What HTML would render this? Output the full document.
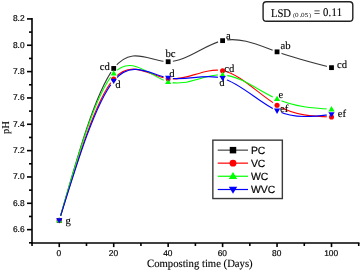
<!DOCTYPE html>
<html><head><meta charset="utf-8"><style>
html,body{margin:0;padding:0;background:#fff;width:360px;height:270px;overflow:hidden}
svg{display:block;will-change:transform;text-rendering:geometricPrecision}
.s{font-family:"Liberation Sans",sans-serif;stroke:#000;stroke-width:0.18px}
.r{font-family:"Liberation Serif",serif;stroke:#000;stroke-width:0.12px}
</style></head><body>
<svg width="360" height="270" viewBox="0 0 360 270">
<rect width="360" height="270" fill="#fff"/>

<defs>
<mask id="mPC" maskUnits="userSpaceOnUse" x="0" y="0" width="360" height="270"><rect width="360" height="270" fill="#fff"/>
<circle cx="59.26" cy="220.42" r="4.80" fill="#000"/>
<circle cx="113.71" cy="68.44" r="4.80" fill="#000"/>
<circle cx="168.16" cy="61.72" r="4.80" fill="#000"/>
<circle cx="222.60" cy="40.65" r="4.80" fill="#000"/>
<circle cx="277.05" cy="51.84" r="4.80" fill="#000"/>
<circle cx="331.50" cy="67.65" r="4.80" fill="#000"/>
</mask>
<mask id="mVC" maskUnits="userSpaceOnUse" x="0" y="0" width="360" height="270"><rect width="360" height="270" fill="#fff"/>
<circle cx="59.26" cy="220.42" r="4.80" fill="#000"/>
<circle cx="113.71" cy="78.98" r="4.80" fill="#000"/>
<circle cx="168.16" cy="78.84" r="4.80" fill="#000"/>
<circle cx="222.60" cy="70.68" r="4.80" fill="#000"/>
<circle cx="277.05" cy="105.18" r="4.80" fill="#000"/>
<circle cx="331.50" cy="117.04" r="4.80" fill="#000"/>
</mask>
<mask id="mWC" maskUnits="userSpaceOnUse" x="0" y="0" width="360" height="270"><rect width="360" height="270" fill="#fff"/>
<circle cx="59.26" cy="220.42" r="4.80" fill="#000"/>
<circle cx="113.71" cy="73.44" r="4.80" fill="#000"/>
<circle cx="168.16" cy="81.87" r="4.80" fill="#000"/>
<circle cx="222.60" cy="74.83" r="4.80" fill="#000"/>
<circle cx="277.05" cy="98.99" r="4.80" fill="#000"/>
<circle cx="331.50" cy="109.27" r="4.80" fill="#000"/>
</mask>
<mask id="mWVC" maskUnits="userSpaceOnUse" x="0" y="0" width="360" height="270"><rect width="360" height="270" fill="#fff"/>
<circle cx="59.26" cy="220.42" r="4.80" fill="#000"/>
<circle cx="113.71" cy="80.82" r="4.80" fill="#000"/>
<circle cx="168.16" cy="77.92" r="4.80" fill="#000"/>
<circle cx="222.60" cy="78.19" r="4.80" fill="#000"/>
<circle cx="277.05" cy="110.71" r="4.80" fill="#000"/>
<circle cx="331.50" cy="114.34" r="4.80" fill="#000"/>
</mask>
</defs>
<g stroke="#000" stroke-width="1.60" fill="none">
<path d="M32.00,18.12 V243.80"/>
<path d="M31.20,243.00 H359.52"/>
<path d="M29.00,242.81 H32.00"/>
<path d="M27.00,229.64 H32.00"/>
<path d="M29.00,216.47 H32.00"/>
<path d="M27.00,203.30 H32.00"/>
<path d="M29.00,190.13 H32.00"/>
<path d="M27.00,176.96 H32.00"/>
<path d="M29.00,163.79 H32.00"/>
<path d="M27.00,150.62 H32.00"/>
<path d="M29.00,137.45 H32.00"/>
<path d="M27.00,124.28 H32.00"/>
<path d="M29.00,111.11 H32.00"/>
<path d="M27.00,97.94 H32.00"/>
<path d="M29.00,84.77 H32.00"/>
<path d="M27.00,71.60 H32.00"/>
<path d="M29.00,58.43 H32.00"/>
<path d="M27.00,45.26 H32.00"/>
<path d="M29.00,32.09 H32.00"/>
<path d="M27.00,18.92 H32.00"/>
<path d="M32.04,243.00 V246.00"/>
<path d="M59.26,243.00 V247.10"/>
<path d="M86.48,243.00 V246.00"/>
<path d="M113.71,243.00 V247.10"/>
<path d="M140.93,243.00 V246.00"/>
<path d="M168.16,243.00 V247.10"/>
<path d="M195.38,243.00 V246.00"/>
<path d="M222.60,243.00 V247.10"/>
<path d="M249.83,243.00 V246.00"/>
<path d="M277.05,243.00 V247.10"/>
<path d="M304.28,243.00 V246.00"/>
<path d="M331.50,243.00 V247.10"/>
<path d="M358.72,243.00 V246.00"/>
</g>
<text class="s" x="24.6" y="231.94" font-size="8.40" text-anchor="end">6.6</text>
<text class="s" x="24.6" y="205.60" font-size="8.40" text-anchor="end">6.8</text>
<text class="s" x="24.6" y="179.26" font-size="8.40" text-anchor="end">7.0</text>
<text class="s" x="24.6" y="152.92" font-size="8.40" text-anchor="end">7.2</text>
<text class="s" x="24.6" y="126.58" font-size="8.40" text-anchor="end">7.4</text>
<text class="s" x="24.6" y="100.24" font-size="8.40" text-anchor="end">7.6</text>
<text class="s" x="24.6" y="73.90" font-size="8.40" text-anchor="end">7.8</text>
<text class="s" x="24.6" y="47.56" font-size="8.40" text-anchor="end">8.0</text>
<text class="s" x="24.6" y="21.22" font-size="8.40" text-anchor="end">8.2</text>
<text class="s" x="58.96" y="255.5" font-size="8.40" text-anchor="middle">0</text>
<text class="s" x="113.41" y="255.5" font-size="8.40" text-anchor="middle">20</text>
<text class="s" x="167.86" y="255.5" font-size="8.40" text-anchor="middle">40</text>
<text class="s" x="222.30" y="255.5" font-size="8.40" text-anchor="middle">60</text>
<text class="s" x="276.75" y="255.5" font-size="8.40" text-anchor="middle">80</text>
<text class="s" x="331.20" y="255.5" font-size="8.40" text-anchor="middle">100</text>
<text class="r" transform="translate(147,266.9) scale(1,1.04)" font-size="10.7">Composting time (Days)</text>
<text class="r" transform="translate(9.3,133.9) rotate(-90)" x="0" y="0" font-size="10.5">pH</text>
<path d="M59.26,220.42 C77.41,156.24 95.56,92.07 113.71,68.44 C131.86,44.81 150.01,61.73 168.16,61.72 C186.31,61.71 204.45,44.78 222.60,40.65 C240.75,36.52 258.90,45.21 277.05,51.84 C295.20,58.48 313.35,63.06 331.50,67.65" fill="none" stroke="#383838" stroke-width="1.10" mask="url(#mPC)"/>
<path d="M59.26,220.42 C77.41,160.15 95.56,99.88 113.71,78.98 C131.86,58.07 150.01,76.53 168.16,78.84 C186.31,81.16 204.45,67.32 222.60,70.68 C240.75,74.04 258.90,94.59 277.05,105.18 C295.20,115.78 313.35,116.41 331.50,117.04" fill="none" stroke="#ff0000" stroke-width="1.10" mask="url(#mVC)"/>
<path d="M59.26,220.42 C77.41,156.96 95.56,93.49 113.71,73.44 C131.86,53.39 150.01,76.76 168.16,81.87 C186.31,86.99 204.45,73.85 222.60,74.83 C240.75,75.81 258.90,90.90 277.05,98.99 C295.20,107.09 313.35,108.18 331.50,109.27" fill="none" stroke="#00ff00" stroke-width="1.10" mask="url(#mWC)"/>
<path d="M59.26,220.42 C77.41,161.50 95.56,102.58 113.71,80.82 C131.86,59.06 150.01,74.45 168.16,77.92 C186.31,81.39 204.45,72.93 222.60,78.19 C240.75,83.44 258.90,102.40 277.05,110.71 C295.20,119.03 313.35,116.68 331.50,114.34" fill="none" stroke="#0000ff" stroke-width="1.10" mask="url(#mWVC)"/>
<text class="r" transform="translate(99.80,69.50) scale(1,1.0)" font-size="10.7">cd</text>
<text class="r" transform="translate(115.30,87.60) scale(1,1.0)" font-size="10.7">d</text>
<text class="r" transform="translate(165.40,57.20) scale(1,1.0)" font-size="10.7">bc</text>
<text class="r" transform="translate(169.30,77.40) scale(1,1.0)" font-size="10.7">d</text>
<text class="r" transform="translate(225.90,38.90) scale(1,1.0)" font-size="10.7">a</text>
<text class="r" transform="translate(224.20,71.60) scale(1,1.0)" font-size="10.7">cd</text>
<text class="r" transform="translate(219.30,85.60) scale(1,1.0)" font-size="10.7">d</text>
<text class="r" transform="translate(280.60,49.00) scale(1,1.0)" font-size="10.7">ab</text>
<text class="r" transform="translate(278.40,97.80) scale(1,1.0)" font-size="10.7">e</text>
<text class="r" transform="translate(280.00,111.60) scale(1,1.0)" font-size="10.7">ef</text>
<text class="r" transform="translate(336.90,67.90) scale(1,1.0)" font-size="10.7">cd</text>
<text class="r" transform="translate(337.80,117.20) scale(1,1.0)" font-size="10.7">ef</text>
<text class="r" transform="translate(65.60,224.00) scale(1,1.0)" font-size="10.7">g</text>
<rect x="56.86" y="218.02" width="4.80" height="4.80" fill="#000000"/>
<rect x="111.31" y="66.04" width="4.80" height="4.80" fill="#000000"/>
<rect x="165.76" y="59.32" width="4.80" height="4.80" fill="#000000"/>
<rect x="220.20" y="38.25" width="4.80" height="4.80" fill="#000000"/>
<rect x="274.65" y="49.44" width="4.80" height="4.80" fill="#000000"/>
<rect x="329.10" y="65.25" width="4.80" height="4.80" fill="#000000"/>
<circle cx="59.26" cy="220.42" r="2.55" fill="#ff0000"/>
<circle cx="113.71" cy="78.98" r="2.55" fill="#ff0000"/>
<circle cx="168.16" cy="78.84" r="2.55" fill="#ff0000"/>
<circle cx="222.60" cy="70.68" r="2.55" fill="#ff0000"/>
<circle cx="277.05" cy="105.18" r="2.55" fill="#ff0000"/>
<circle cx="331.50" cy="117.04" r="2.55" fill="#ff0000"/>
<path d="M59.26,217.24 L62.36,222.54 L56.16,222.54 Z" fill="#00ff00"/>
<path d="M113.71,70.26 L116.81,75.56 L110.61,75.56 Z" fill="#00ff00"/>
<path d="M168.16,78.69 L171.26,83.99 L165.06,83.99 Z" fill="#00ff00"/>
<path d="M222.60,71.65 L225.70,76.95 L219.50,76.95 Z" fill="#00ff00"/>
<path d="M277.05,95.81 L280.15,101.11 L273.95,101.11 Z" fill="#00ff00"/>
<path d="M331.50,106.09 L334.60,111.39 L328.40,111.39 Z" fill="#00ff00"/>
<path d="M59.26,223.60 L62.36,218.30 L56.16,218.30 Z" fill="#0000ff"/>
<path d="M113.71,84.00 L116.81,78.70 L110.61,78.70 Z" fill="#0000ff"/>
<path d="M168.16,81.10 L171.26,75.80 L165.06,75.80 Z" fill="#0000ff"/>
<path d="M222.60,81.37 L225.70,76.06 L219.50,76.06 Z" fill="#0000ff"/>
<path d="M277.05,113.89 L280.15,108.59 L273.95,108.59 Z" fill="#0000ff"/>
<path d="M331.50,117.52 L334.60,112.22 L328.40,112.22 Z" fill="#0000ff"/>
<rect x="263.1" y="1.75" width="89.7" height="19.5" rx="3.3" ry="3.3" fill="#fff" stroke="#222" stroke-width="1.4"/>
<text class="r" transform="translate(270.9,16.7) scale(1,1.1)" font-size="10.65">LSD</text>
<text transform="translate(293.00,17.20) scale(1.15,1)" font-size="5.2" style="font-family:Liberation Serif;fill:#333;stroke:#333;stroke-width:0.1px">(</text>
<text transform="translate(294.90,17.25) scale(1.15,1)" font-size="6.2" style="font-family:Liberation Serif;fill:#333;stroke:#333;stroke-width:0.1px">0</text>
<text transform="translate(299.40,17.25) scale(1.15,1)" font-size="6.2" style="font-family:Liberation Serif;fill:#333;stroke:#333;stroke-width:0.1px">.</text>
<text transform="translate(301.00,17.25) scale(1.15,1)" font-size="6.2" style="font-family:Liberation Serif;fill:#333;stroke:#333;stroke-width:0.1px">0</text>
<text transform="translate(304.70,17.25) scale(1.15,1)" font-size="6.2" style="font-family:Liberation Serif;fill:#333;stroke:#333;stroke-width:0.1px">5</text>
<text transform="translate(309.20,17.20) scale(1.15,1)" font-size="5.2" style="font-family:Liberation Serif;fill:#333;stroke:#333;stroke-width:0.1px">)</text>
<text class="r" transform="translate(313.9,16.4) scale(1,1.1)" font-size="10.7" letter-spacing="0.22">= 0.11</text>
<rect x="212.85" y="140.15" width="69.5" height="58.4" fill="#fff" stroke="#3a3a3a" stroke-width="1.4"/>
<path d="M217.7,150.15 H248" stroke="#444" stroke-width="1.2"/>
<rect x="229.76" y="146.91" width="6.48" height="6.48" fill="#000000"/>
<text class="s" x="250.9" y="153.95" font-size="10.45">PC</text>
<path d="M217.7,163.15 H248" stroke="#ff0000" stroke-width="1.2"/>
<circle cx="233.00" cy="163.15" r="3.44" fill="#ff0000"/>
<text class="s" x="250.9" y="166.95" font-size="10.45">VC</text>
<path d="M217.7,176.25 H248" stroke="#00ff00" stroke-width="1.2"/>
<path d="M233.00,171.96 L237.19,179.11 L228.81,179.11 Z" fill="#00ff00"/>
<text class="s" x="250.9" y="180.05" font-size="10.45">WC</text>
<path d="M217.7,189.50 H248" stroke="#0000ff" stroke-width="1.2"/>
<path d="M233.00,193.79 L237.19,186.64 L228.81,186.64 Z" fill="#0000ff"/>
<text class="s" x="250.9" y="193.30" font-size="10.45">WVC</text>
</svg></body></html>
